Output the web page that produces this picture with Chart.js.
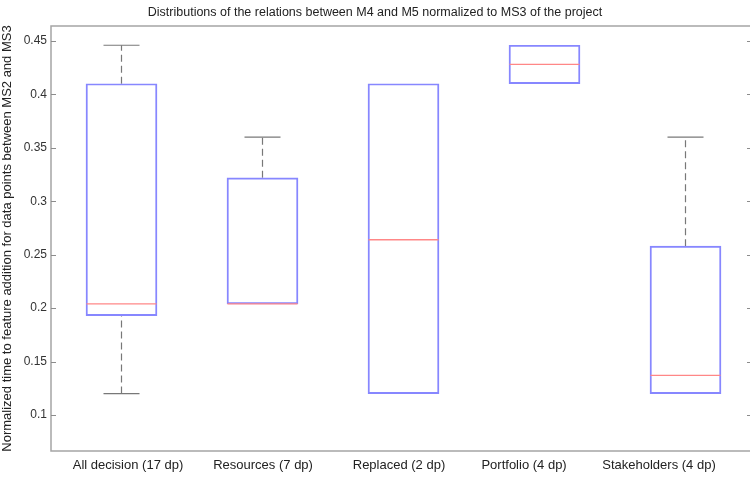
<!DOCTYPE html>
<html>
<head>
<meta charset="utf-8">
<script src="https://cdn.jsdelivr.net/npm/chart.js@4/dist/chart.umd.min.js"></script>
<style>
  html, body { margin: 0; padding: 0; background: #ffffff; overflow: hidden; }
  #wrap { width: 750px; height: 478px; }
</style>
</head>
<body>
<div id="wrap"><canvas id="c" width="750" height="478"></canvas></div>
<script>
// ---- data ----
const categories = ['All decision (17 dp)', 'Resources (7 dp)', 'Replaced (2 dp)', 'Portfolio (4 dp)', 'Stakeholders (4 dp)'];
const lowerWhisker = [0.120, 0.204, 0.120, 0.410, 0.120];
const q1Values     = [0.193, 0.204, 0.120, 0.410, 0.120];
const medianValues = [0.204, 0.204, 0.264, 0.428, 0.137];
const q3Values     = [0.410, 0.322, 0.410, 0.446, 0.258];
const upperWhisker = [0.446, 0.360, 0.410, 0.446, 0.360];
const yTickValues  = [0.1, 0.15, 0.2, 0.25, 0.3, 0.35, 0.4, 0.45];
const titleText = 'Distributions of the relations between M4 and M5 normalized to MS3 of the project';
const yTitleText = 'Normalized time to feature addition for data points between MS2 and MS3';

// ---- layout helpers ----
const labelPos = [1.046, 2.004, 2.968, 3.855, 4.812];
const FONT = "'Liberation Sans', Arial, sans-serif";
const BOX_COLOR = 'rgb(135,135,255)';
const MED_COLOR = 'rgb(255,135,135)';
const WHISK_COLOR = 'rgb(120,120,120)';
const FRAME_COLOR = 'rgb(165,165,165)';

// build datasets from the arrays
const boxData = categories.map((c, i) => ({ x: i + 1, y: [q1Values[i], q3Values[i]] }));
const medData = categories.map((c, i) => ({ x: i + 1, y: medianValues[i] }));
const whiskData = [];
const capData = [];
categories.forEach((c, i) => {
  if (upperWhisker[i] > q3Values[i]) {
    whiskData.push({ x: i + 1, y: q3Values[i] }, { x: i + 1, y: upperWhisker[i] }, { x: i + 1, y: null });
    capData.push({ x: i + 1, y: upperWhisker[i] });
  }
  if (lowerWhisker[i] < q1Values[i]) {
    whiskData.push({ x: i + 1, y: lowerWhisker[i] }, { x: i + 1, y: q1Values[i] }, { x: i + 1, y: null });
    capData.push({ x: i + 1, y: lowerWhisker[i] });
  }
});

const framePlugin = {
  id: 'frame',
  afterDatasetsDraw(chart) {
    const { ctx, chartArea: a, scales } = chart;
    ctx.save();
    ctx.strokeStyle = FRAME_COLOR;
    ctx.lineWidth = 1.5;
    ctx.beginPath();
    ctx.moveTo(a.right + 3, a.top);
    ctx.lineTo(a.left, a.top);
    ctx.lineTo(a.left, a.bottom);
    ctx.lineTo(a.right + 3, a.bottom);
    ctx.stroke();
    // inward tick marks on left and right
    ctx.strokeStyle = 'rgb(140,140,140)';
    ctx.lineWidth = 1;
    yTickValues.forEach(v => {
      const y = Math.round(scales.y.getPixelForValue(v)) + 0.5;
      ctx.beginPath();
      ctx.moveTo(a.left, y); ctx.lineTo(a.left + 5, y);
      ctx.moveTo(a.right - 3, y); ctx.lineTo(a.right + 2, y);
      ctx.stroke();
    });
    ctx.restore();
  }
};

new Chart(document.getElementById('c'), {
  data: {
    datasets: [
      {
        type: 'scatter', label: 'median', data: medData, order: 0,
        pointStyle: 'line', pointRadius: 35, pointBorderColor: MED_COLOR, pointBorderWidth: 1.3,
        borderColor: MED_COLOR, showLine: false, clip: false
      },
      {
        type: 'bar', label: 'box', data: boxData, order: 1,
        backgroundColor: 'rgba(0,0,0,0)', borderColor: BOX_COLOR, borderWidth: 1.3,
        borderSkipped: false, barThickness: 71
      },
      {
        type: 'line', label: 'whisker', data: whiskData, order: 2,
        borderColor: WHISK_COLOR, borderWidth: 1.2, borderDash: [7, 4],
        pointRadius: 0, spanGaps: false, fill: false
      },
      {
        type: 'scatter', label: 'cap', data: capData, order: 2,
        pointStyle: 'line', pointRadius: 18, pointBorderColor: WHISK_COLOR, pointBorderWidth: 1.2,
        borderColor: WHISK_COLOR, showLine: false, clip: false
      }
    ]
  },
  options: {
    responsive: false,
    animation: false,
    events: [],
    layout: { autoPadding: false, padding: { left: 0, right: 0, top: 0, bottom: 0 } },
    plugins: {
      legend: { display: false },
      tooltip: { enabled: false },
      title: {
        display: true, text: titleText, color: '#222',
        font: { family: FONT, size: 12.5, weight: 'normal', lineHeight: 1.2 },
        padding: { top: 5.5, bottom: 5.5 }
      }
    },
    scales: {
      x: {
        type: 'linear',
        min: 0.5,
        max: 0.5 + 699 / 141,
        offset: false,
        grid: { display: false, drawTicks: false },
        border: { display: false },
        afterBuildTicks: s => { s.ticks = labelPos.map(v => ({ value: v })); },
        afterFit: s => { s.height = 27; s.paddingLeft = 0; s.paddingRight = 0; s.paddingTop = 0; s.paddingBottom = 0; },
        ticks: {
          autoSkip: false, maxRotation: 0, minRotation: 0, padding: 7,
          color: '#222', font: { family: FONT, size: 13 },
          callback: (v, i) => categories[i]
        }
      },
      y: {
        type: 'linear',
        min: 0.0663,
        max: 0.4640,
        grid: { display: false, drawTicks: false },
        border: { display: false },
        afterBuildTicks: s => { s.ticks = yTickValues.map(v => ({ value: v })); },
        afterFit: s => { s.width = 51; s.paddingLeft = 0; s.paddingRight = 0; s.paddingTop = 0; s.paddingBottom = 0; },
        ticks: {
          padding: 4, color: '#333', font: { family: FONT, size: 12 },
          callback: v => String(v)
        },
        title: {
          display: true, text: yTitleText, color: '#222',
          font: { family: FONT, size: 13, lineHeight: 1.2 },
          padding: { top: 0, bottom: 0 }
        }
      }
    }
  },
  plugins: [framePlugin]
});
</script>
</body>
</html>
